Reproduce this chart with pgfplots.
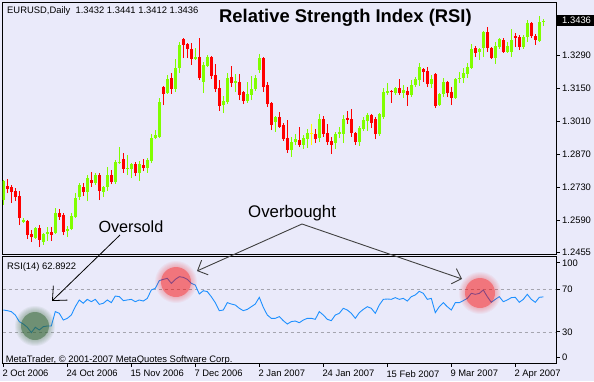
\documentclass[border=0pt]{standalone}
\usepackage{pgfplots}
\pgfplotsset{compat=1.18}
\usepackage{pgfplotstable}
\usepackage{fontspec}
\setmainfont{Liberation Sans}
\usetikzlibrary{arrows.meta}
\definecolor{bg}{RGB}{234,234,250}
\definecolor{bull}{RGB}{128,255,0}
\definecolor{bear}{RGB}{255,0,0}
\definecolor{doji}{RGB}{255,255,0}
\definecolor{rsiblue}{RGB}{30,144,255}
\definecolor{dashgray}{RGB}{165,165,175}
\definecolor{osgreen}{RGB}{50,100,50}

\pgfplotstableread{
x o h l c
0 1.2675 1.2760 1.2654 1.2756
5 1.2582 1.2599 1.2578 1.2591
8 1.2514 1.2561 1.2510 1.2557
10 1.2497 1.2536 1.2485 1.2531
11 1.2531 1.2561 1.2502 1.2538
13 1.2536 1.2642 1.2531 1.2620
16 1.2544 1.2565 1.2519 1.2553
17 1.2553 1.2620 1.2548 1.2608
18 1.2603 1.2705 1.2599 1.2684
19 1.2688 1.2748 1.2675 1.2739
21 1.2709 1.2781 1.2671 1.2769
23 1.2748 1.2790 1.2739 1.2781
25 1.2709 1.2735 1.2688 1.2731
26 1.2731 1.2815 1.2714 1.2781
28 1.2752 1.2845 1.2743 1.2837
29 1.2832 1.2900 1.2828 1.2837
31 1.2807 1.2866 1.2781 1.2811
32 1.2807 1.2832 1.2769 1.2828
34 1.2790 1.2841 1.2756 1.2828
36 1.2811 1.2854 1.2790 1.2845
37 1.2841 1.2955 1.2832 1.2938
38 1.2938 1.2972 1.2934 1.2951
39 1.2943 1.3108 1.2938 1.3091
41 1.3129 1.3205 1.3125 1.3188
43 1.3146 1.3273 1.3133 1.3235
44 1.3235 1.3345 1.3214 1.3333
48 1.3273 1.3320 1.3269 1.3282
50 1.3176 1.3260 1.3129 1.3248
51 1.3244 1.3290 1.3239 1.3282
55 1.3078 1.3116 1.3044 1.3095
56 1.3091 1.3214 1.3082 1.3193
58 1.3171 1.3210 1.3133 1.3180
61 1.3095 1.3176 1.3087 1.3125
62 1.3121 1.3201 1.3099 1.3146
63 1.3146 1.3205 1.3138 1.3193
64 1.3227 1.3294 1.3214 1.3277
68 1.3006 1.3032 1.2964 1.3027
72 1.2887 1.2943 1.2858 1.2921
73 1.2921 1.2955 1.2909 1.2934
75 1.2909 1.2951 1.2892 1.2938
76 1.2934 1.2976 1.2896 1.2959
79 1.2938 1.3040 1.2921 1.3019
83 1.2917 1.2964 1.2892 1.2955
84 1.2955 1.2985 1.2938 1.2964
85 1.2955 1.3036 1.2917 1.3019
89 1.2921 1.2989 1.2904 1.2981
90 1.2976 1.3027 1.2968 1.3015
91 1.3010 1.3044 1.2968 1.3036
94 1.2955 1.3044 1.2947 1.3040
95 1.3027 1.3150 1.3019 1.3133
96 1.3129 1.3171 1.3121 1.3138
98 1.3129 1.3154 1.3121 1.3150
100 1.3129 1.3163 1.3108 1.3142
102 1.3121 1.3184 1.3112 1.3163
103 1.3163 1.3197 1.3154 1.3188
104 1.3184 1.3256 1.3159 1.3239
107 1.3167 1.3205 1.3150 1.3188
109 1.3078 1.3129 1.3074 1.3125
110 1.3125 1.3193 1.3112 1.3176
113 1.3108 1.3193 1.3104 1.3188
114 1.3188 1.3218 1.3171 1.3193
115 1.3193 1.3235 1.3171 1.3214
116 1.3210 1.3256 1.3193 1.3239
117 1.3235 1.3337 1.3231 1.3316
119 1.3303 1.3320 1.3269 1.3316
120 1.3320 1.3392 1.3282 1.3388
123 1.3277 1.3345 1.3252 1.3328
124 1.3324 1.3362 1.3316 1.3358
126 1.3303 1.3345 1.3299 1.3328
127 1.3303 1.3400 1.3282 1.3354
130 1.3324 1.3375 1.3316 1.3366
131 1.3366 1.3438 1.3345 1.3426
134 1.3349 1.3455 1.3345 1.3430
135 1.3432 1.3441 1.3412 1.3436
}\upT

\pgfplotstableread{
x o h l c
1 1.2735 1.2764 1.2705 1.2722
2 1.2731 1.2739 1.2663 1.2709
3 1.2714 1.2726 1.2671 1.2688
4 1.2692 1.2714 1.2569 1.2599
6 1.2586 1.2591 1.2510 1.2527
7 1.2531 1.2548 1.2497 1.2519
9 1.2557 1.2569 1.2476 1.2506
12 1.2538 1.2561 1.2502 1.2529
14 1.2620 1.2637 1.2591 1.2603
15 1.2612 1.2620 1.2527 1.2540
20 1.2731 1.2748 1.2692 1.2709
22 1.2760 1.2794 1.2731 1.2748
24 1.2781 1.2790 1.2675 1.2714
27 1.2781 1.2803 1.2743 1.2752
30 1.2849 1.2875 1.2790 1.2807
33 1.2828 1.2837 1.2777 1.2790
35 1.2824 1.2849 1.2798 1.2811
40 1.3154 1.3159 1.3078 1.3125
42 1.3193 1.3214 1.3125 1.3146
45 1.3358 1.3362 1.3277 1.3333
46 1.3337 1.3341 1.3277 1.3316
47 1.3316 1.3341 1.3248 1.3273
49 1.3282 1.3362 1.3184 1.3193
52 1.3282 1.3286 1.3188 1.3201
53 1.3205 1.3252 1.3133 1.3146
54 1.3150 1.3184 1.3053 1.3074
57 1.3197 1.3244 1.3154 1.3171
59 1.3176 1.3210 1.3099 1.3121
60 1.3133 1.3138 1.3082 1.3095
65 1.3277 1.3282 1.3133 1.3154
66 1.3163 1.3176 1.3070 1.3082
67 1.3087 1.3091 1.2972 1.2993
69 1.3027 1.3049 1.2981 1.2985
70 1.2993 1.3002 1.2926 1.2934
71 1.2938 1.3015 1.2875 1.2887
74 1.2930 1.2985 1.2900 1.2909
78 1.2955 1.2976 1.2917 1.2934
80 1.3019 1.3032 1.2943 1.2955
81 1.2959 1.2998 1.2909 1.2921
82 1.2926 1.2943 1.2870 1.2909
86 1.3023 1.3053 1.2998 1.3015
87 1.3019 1.3061 1.2943 1.2959
88 1.2959 1.2964 1.2909 1.2921
92 1.3036 1.3040 1.2981 1.3002
93 1.3019 1.3027 1.2934 1.2955
97 1.3138 1.3142 1.3087 1.3133
99 1.3150 1.3188 1.3121 1.3129
101 1.3138 1.3154 1.3074 1.3121
105 1.3231 1.3235 1.3176 1.3218
106 1.3222 1.3239 1.3154 1.3167
108 1.3210 1.3214 1.3065 1.3074
111 1.3176 1.3180 1.3112 1.3129
112 1.3133 1.3154 1.3078 1.3108
118 1.3320 1.3328 1.3282 1.3299
121 1.3388 1.3409 1.3303 1.3320
122 1.3320 1.3324 1.3273 1.3277
125 1.3354 1.3362 1.3299 1.3303
128 1.3371 1.3383 1.3324 1.3362
129 1.3366 1.3375 1.3311 1.3324
132 1.3426 1.3430 1.3362 1.3371
133 1.3371 1.3379 1.3333 1.3354
}\downT

\pgfplotstableread{
x o h l c
77 1.2957 1.2998 1.2909 1.2961
}\dojiT

\pgfplotstableread{
x r
0 50.6
1 50.0
2 49.1
3 45.9
4 39.7
5 37.5
6 34.4
7 29.4
8 34.4
9 31.9
10 35.0
11 35.6
12 35.6
13 49.1
14 47.5
15 41.2
16 42.8
17 45.9
18 53.7
19 60.0
20 56.9
21 60.6
22 58.4
23 60.6
24 55.9
25 56.9
26 60.0
27 57.5
28 63.7
29 63.1
30 59.4
31 60.0
32 60.6
33 58.4
34 60.0
35 59.0
36 61.5
37 69.4
38 70.9
39 78.1
40 79.3
41 80.3
42 75.6
43 79.3
44 81.8
45 81.2
46 79.3
47 75.6
48 74.0
49 65.6
50 68.7
51 67.8
52 63.1
53 57.5
54 50.0
55 50.6
56 57.5
57 56.2
58 55.3
59 52.2
60 50.0
61 51.2
62 53.7
63 56.2
64 62.5
65 53.1
66 45.9
67 42.8
68 42.8
69 44.4
70 40.6
71 37.5
72 39.7
73 40.3
74 38.7
75 41.2
76 42.8
77 42.8
78 41.9
79 49.1
80 45.9
81 41.9
82 40.6
83 45.9
84 47.5
85 52.2
86 50.6
87 47.5
88 42.8
89 48.1
90 51.2
91 53.7
92 52.2
93 47.5
94 55.3
95 60.6
96 60.9
97 60.6
98 62.2
99 60.6
100 61.5
101 59.0
102 63.1
103 64.7
104 68.1
105 66.2
106 60.6
107 61.5
108 48.1
109 53.7
110 57.5
111 53.7
112 50.6
113 57.5
114 57.5
115 59.4
116 61.5
117 66.2
118 65.3
119 66.2
120 69.4
121 63.1
122 57.8
123 60.6
124 63.1
125 58.4
126 60.0
127 62.2
128 62.5
129 57.8
130 60.6
131 65.3
132 60.6
133 57.8
134 62.5
135 62.89
}\rsiT

\pgfplotsset{
  candle/.style 2 args={only marks, mark=none, mark size=0pt,
    mark options={draw opacity=0, fill opacity=0}, forget plot,
    error bars/.cd, y dir=plus, y explicit, error mark=none,
    error bar style={line width=#2, color=#1, draw opacity=1}},
  mtaxis/.style={scale only axis, anchor=south west,
    width=553.5pt, xmin=-0.2, xmax=138.175,
    axis line style={black, line width=1pt},
    tick align=outside, major tick length=3.5pt,
    major tick style={black, line width=1pt},
    /pgf/number format/assume math mode=true,
    tick label style={font=\fontsize{9.4}{11}\selectfont},
    scaled y ticks=false,
    ytick pos=right, yticklabel pos=right,
    yticklabel style={anchor=west, inner sep=0pt, xshift=2.5pt}},
}

\begin{document}
\begin{tikzpicture}
\fill[bg] (0pt,0pt) rectangle (594pt,381pt);
\useasboundingbox (0pt,0pt) rectangle (594pt,381pt);

% price panel
\begin{axis}[mtaxis, at={(2.5pt,126.7pt)}, height=251.8pt,
  ymin=1.24453, ymax=1.35126, xtick=\empty,
  ytick={1.2455,1.2590,1.2730,1.2870,1.3010,1.3150,1.3290,1.3436},
  yticklabels={1.2455,1.2590,1.2730,1.2870,1.3010,1.3150,1.3290,{}}]
\addplot[candle={bull}{1pt}] table[x=x, y=l, y error plus expr=\thisrow{h}-\thisrow{l}] {\upT};
\addplot[candle={bull}{3pt}] table[x=x, y=o, y error plus expr=\thisrow{c}-\thisrow{o}] {\upT};
\addplot[candle={bear}{1pt}] table[x=x, y=l, y error plus expr=\thisrow{h}-\thisrow{l}] {\downT};
\addplot[candle={bear}{3pt}] table[x=x, y=c, y error plus expr=\thisrow{o}-\thisrow{c}] {\downT};
\addplot[candle={doji}{1pt}] table[x=x, y=l, y error plus expr=\thisrow{h}-\thisrow{l}] {\dojiT};
\addplot[candle={doji}{3pt}] table[x=x, y=o, y error plus expr=\thisrow{c}-\thisrow{o}] {\dojiT};
\end{axis}

% RSI panel
\begin{axis}[mtaxis, at={(2.5pt,17.7pt)}, height=107.3pt,
  ymin=0.67, ymax=101.2,
  xtick={0,16,32,48,64,80,96,112,128},
  xticklabels={2 Oct 2006,24 Oct 2006,15 Nov 2006,7 Dec 2006,2 Jan 2007,24 Jan 2007,15 Feb 2007,9 Mar 2007,2 Apr 2007},
  xtick pos=bottom,
  xticklabel style={anchor=north west, inner sep=0pt, xshift=-1pt, yshift=-3.4pt},
  ytick={6.5,30,70,94.7}, yticklabels={0,30,70,100}]
\addplot[forget plot, dashgray, dash pattern=on 3pt off 3pt, line width=0.8pt] coordinates {(-0.2,70) (138.175,70)};
\addplot[forget plot, dashgray, dash pattern=on 3pt off 3pt, line width=0.8pt] coordinates {(-0.2,30) (138.175,30)};
\addplot[rsiblue, line width=0.9pt, mark=none] table[x=x, y=r] {\rsiT};
\end{axis}

% highlight circles
\fill[osgreen, opacity=0.5] (35pt,55pt) circle[radius=14pt];
\foreach \r in {15,16,17,18,19,20} \fill[osgreen, opacity=0.06] (35pt,55pt) circle[radius=\r pt];
\fill[red, opacity=0.35] (176pt,99pt) circle[radius=15pt];
\foreach \r in {16,17,18,19,20,21} \fill[red, opacity=0.04] (176pt,99pt) circle[radius=\r pt];
\fill[red, opacity=0.35] (480pt,88pt) circle[radius=15pt];
\foreach \r in {16,17,18,19,20,21} \fill[red, opacity=0.04] (480pt,88pt) circle[radius=\r pt];

% texts
\node[anchor=base west, inner sep=0pt, font=\fontsize{9.4}{11}\selectfont] at (7pt,367pt) {EURUSD,Daily\ \ 1.3432 1.3441 1.3412 1.3436};
\node[anchor=base west, inner sep=0pt, font=\bfseries\fontsize{18.4}{20}\selectfont] at (219pt,358.3pt) {Relative Strength Index (RSI)};
\node[anchor=base west, inner sep=0pt, font=\fontsize{9.4}{11}\selectfont] at (7pt,112pt) {RSI(14) 62.8922};
\node[anchor=base west, inner sep=0pt, font=\fontsize{9.4}{11}\selectfont] at (5.7pt,19pt) {MetaTrader, \textcopyright\ 2001-2007 MetaQuotes Software Corp.};
\fill[black] (557pt,355pt) rectangle (594pt,366pt);
\node[anchor=base west, inner sep=0pt, text=white, font=\fontsize{9.4}{11}\selectfont] at (562pt,357pt) {1.3436};

% annotations
\node[anchor=base west, inner sep=0pt, font=\fontsize{16.2}{18}\selectfont] at (98.3pt,148.3pt) {Oversold};
\node[anchor=base west, inner sep=0pt, font=\fontsize{16.8}{18}\selectfont] at (248pt,163.7pt) {Overbought};
\draw[black, line width=0.8pt, -{Straight Barb[length=11pt,width=20pt]}] (120pt,146pt) -- (52pt,80pt);
\draw[black!75, line width=0.9pt, -{Straight Barb[length=8pt,width=16pt]}] (302pt,157pt) -- (197pt,110pt);
\draw[black!75, line width=0.9pt, -{Straight Barb[length=8pt,width=16pt]}] (302pt,157pt) -- (462pt,102pt);
\end{tikzpicture}
\end{document}
